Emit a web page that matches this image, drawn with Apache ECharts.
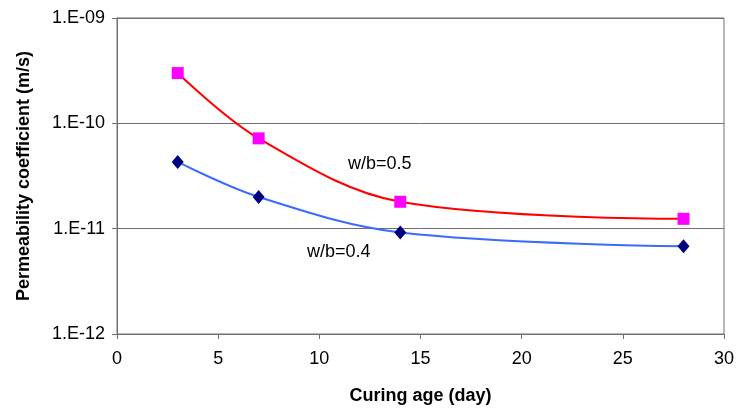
<!DOCTYPE html>
<html>
<head>
<meta charset="utf-8">
<script src="https://cdn.jsdelivr.net/npm/echarts@6/dist/echarts.min.js"></script>
<style>
  html, body { margin: 0; padding: 0; background: #fff; }
  #chart { width: 737px; height: 410px; }
</style>
</head>
<body>
<div id="chart"></div>
<script>
// Curing age (day)
const curingAge = [3, 7, 14, 28];
// Permeability coefficient (m/s)
const wb05 = [3.0e-10, 7.2e-11, 1.8e-11, 1.24e-11];
const wb04 = [4.3e-11, 2.0e-11, 9.2e-12, 6.8e-12];
const seriesNames = ["w/b=0.5", "w/b=0.4"];

const font = "'Liberation Sans', Arial, sans-serif";

function pairs(xs, ys) {
  return xs.map((x, i) => [x, ys[i]]);
}

// 1.E-09 style labels
function sciLabel(v) {
  const exp = Math.round(Math.log10(v));
  const abs = Math.abs(exp);
  return "1.E" + (exp < 0 ? "-" : "+") + (abs < 10 ? "0" + abs : abs);
}

const chart = echarts.init(document.getElementById("chart"));

const option = {
  animation: false,
  grid: {
    left: 117,
    right: 9,
    top: 18,
    bottom: 75,
    show: true,
    borderColor: "#707070",
    borderWidth: 1,
  },
  xAxis: {
    type: "value",
    min: 0,
    max: 30,
    interval: 5,
    name: "Curing age (day)",
    nameLocation: "middle",
    nameGap: 53,
    nameTextStyle: { fontFamily: font, fontSize: 18, fontWeight: "bold", color: "#000" },
    axisLine: { lineStyle: { color: "#707070" } },
    axisTick: { show: true, length: 5, lineStyle: { color: "#707070" } },
    axisLabel: { fontFamily: font, fontSize: 18, color: "#000", margin: 16 },
    splitLine: { show: false },
  },
  yAxis: {
    type: "log",
    logBase: 10,
    min: 1e-12,
    max: 1e-9,
    name: "Permeability coefficient (m/s)",
    nameLocation: "middle",
    nameGap: 84,
    nameTextStyle: { fontFamily: font, fontSize: 18, fontWeight: "bold", color: "#000" },
    axisLine: { show: true, lineStyle: { color: "#707070" } },
    axisTick: { show: true, length: 5, lineStyle: { color: "#707070" } },
    axisLabel: { fontFamily: font, fontSize: 18, color: "#000", margin: 12, formatter: sciLabel },
    splitLine: { show: true, lineStyle: { color: "#707070", width: 1 } },
    minorTick: { show: false },
  },
  series: [
    {
      name: seriesNames[0],
      type: "line",
      data: pairs(curingAge, wb05),
      smooth: 0.35,
      symbol: "rect",
      symbolSize: 12,
      lineStyle: { color: "#ff0000", width: 2 },
      itemStyle: { color: "#ff00ff" },
      z: 3,
    },
    {
      name: seriesNames[1],
      type: "line",
      data: pairs(curingAge, wb04),
      smooth: 0.35,
      symbol: "diamond",
      symbolSize: [12, 14],
      lineStyle: { color: "#3a6bff", width: 2 },
      itemStyle: { color: "#000080" },
      z: 3,
    },
  ],
  graphic: [
    {
      type: "text",
      left: 348,
      top: 155,
      style: { text: seriesNames[0], font: "18px " + font, fill: "#000" },
    },
    {
      type: "text",
      left: 307,
      top: 243,
      style: { text: seriesNames[1], font: "18px " + font, fill: "#000" },
    },
  ],
};

chart.setOption(option);
</script>
</body>
</html>
